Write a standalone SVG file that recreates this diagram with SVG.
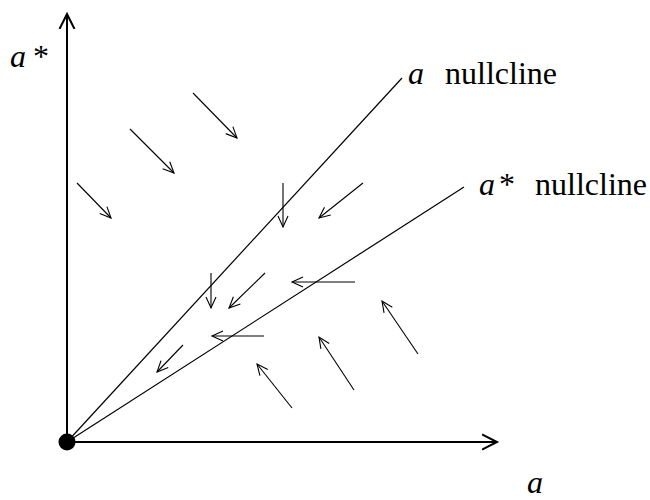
<svg xmlns="http://www.w3.org/2000/svg" width="650" height="500" viewBox="0 0 650 500">
<style>
.ax{stroke:#000;stroke-width:2;fill:none}
.nc{stroke:#000;stroke-width:1.2;fill:none}
.v{stroke:#000;stroke-width:1.1;fill:none}
.t{font-family:"Liberation Serif","Times New Roman",serif;font-size:32px;fill:#000}
.i{font-style:italic}
</style>
<defs>
<marker id="ah" markerUnits="userSpaceOnUse" markerWidth="30" markerHeight="30" viewBox="-15 -15 30 30" refX="0" refY="0" orient="auto">
<path d="M-15,-7.5 L0,0 L-15,7.5" stroke="#000" stroke-width="2" fill="none"/>
</marker>
<marker id="sh" markerUnits="userSpaceOnUse" markerWidth="24" markerHeight="24" viewBox="-12 -12 24 24" refX="0" refY="0" orient="auto">
<path d="M-11,-5 L0,0 L-11,5" stroke="#000" stroke-width="1.1" fill="none"/>
</marker>
</defs>
<g id="axes">
<line class="ax" x1="67" y1="442" x2="67" y2="14" marker-end="url(#ah)"/>
<line class="ax" x1="67" y1="442" x2="497" y2="442" marker-end="url(#ah)"/>
</g>
<g id="origin"><circle cx="67" cy="442" r="8.5" fill="#000"/></g>
<g id="nullclines">
<line class="nc" x1="67" y1="442" x2="402" y2="78"/>
<line class="nc" x1="67" y1="442" x2="464" y2="187"/>
</g>
<g id="field">
<line class="v" x1="193" y1="93" x2="237" y2="138" marker-end="url(#sh)"/>
<line class="v" x1="130" y1="129" x2="174" y2="173" marker-end="url(#sh)"/>
<line class="v" x1="77" y1="183" x2="111" y2="218" marker-end="url(#sh)"/>
<line class="v" x1="283" y1="183" x2="283" y2="227" marker-end="url(#sh)"/>
<line class="v" x1="363" y1="183" x2="319" y2="218" marker-end="url(#sh)"/>
<line class="v" x1="211" y1="273" x2="211" y2="308" marker-end="url(#sh)"/>
<line class="v" x1="265" y1="273" x2="229" y2="308" marker-end="url(#sh)"/>
<line class="v" x1="355" y1="282" x2="292" y2="282" marker-end="url(#sh)"/>
<line class="v" x1="264" y1="336" x2="212" y2="336" marker-end="url(#sh)"/>
<line class="v" x1="183" y1="345" x2="157" y2="372" marker-end="url(#sh)"/>
<line class="v" x1="292" y1="408" x2="257" y2="364" marker-end="url(#sh)"/>
<line class="v" x1="354" y1="390" x2="319" y2="337" marker-end="url(#sh)"/>
<line class="v" x1="418" y1="354" x2="382" y2="301" marker-end="url(#sh)"/>
</g>
<g id="labels">
<text class="t" x="10" y="67"><tspan class="i">a</tspan><tspan x="33">*</tspan></text>
<text class="t" x="408" y="84"><tspan class="i">a</tspan><tspan x="445">nullcline</tspan></text>
<text class="t" x="479" y="195"><tspan class="i">a</tspan><tspan x="499">*</tspan><tspan x="535">nullcline</tspan></text>
<text class="t i" x="527" y="493">a</text>
</g>
</svg>
